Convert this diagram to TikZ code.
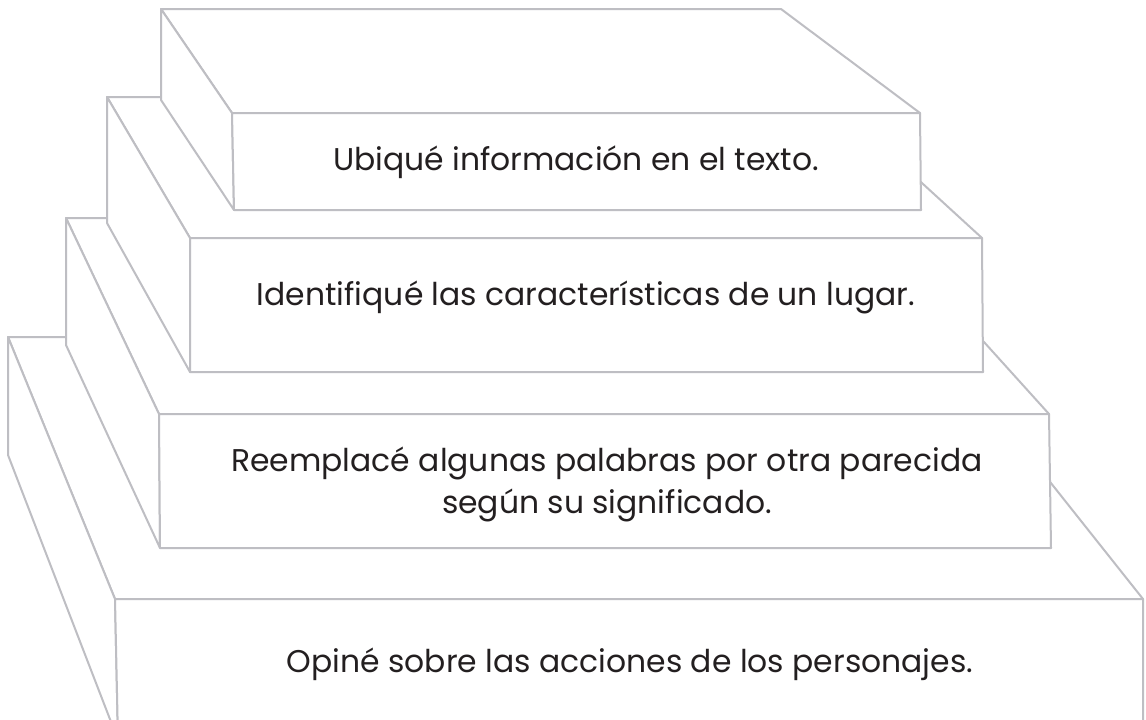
\documentclass[tikz,border=0pt]{standalone}
\usepackage{fontspec}
\setmainfont{Poppins}
\usepackage{xcolor}
\usepackage{tikz}
\definecolor{stepgray}{RGB}{190,190,195}
\definecolor{textgray}{RGB}{35,31,32}

\begin{document}
\begin{tikzpicture}[x=1pt, y=-1pt,
    block/.style={draw=stepgray, line width=2pt, fill=white, line join=round},
    lbl/.style={text=textgray, font=\fontsize{31.4}{42}\selectfont, align=center}]
    \clip (0,0) rectangle (1146,720);
    % bottom step
    \draw[block] (8,337) -- (935,337) -- (1143,599) -- (115,599) -- cycle;
    \draw[block] (8,337) -- (8,455) -- (118,740) -- (115,599) -- cycle;
    \draw[block] (115,599) -- (1143,599) -- (1143,740) -- (118,740) -- cycle;
    % third step
    \draw[block] (66,218) -- (872,218) -- (1049,414) -- (159,414) -- cycle;
    \draw[block] (66,218) -- (66,345) -- (160,548) -- (159,414) -- cycle;
    \draw[block] (159,414) -- (1049,414) -- (1051,548) -- (160,548) -- cycle;
    % second step
    \draw[block] (107,97) -- (828,97) -- (982,238) -- (190,238) -- cycle;
    \draw[block] (107,97) -- (107,223) -- (190,372) -- (190,238) -- cycle;
    \draw[block] (190,238) -- (982,238) -- (983,372) -- (190,372) -- cycle;
    % top step
    \draw[block] (161,9) -- (781,9) -- (920,113) -- (232,113) -- cycle;
    \draw[block] (161,9) -- (161,100) -- (234,210) -- (232,113) -- cycle;
    \draw[block] (232,113) -- (920,113) -- (921,210) -- (234,210) -- cycle;
    % texts
    \node[lbl] (ubique) at (576,162) {Ubiqué información en el texto.};
    \node[lbl] (identifique) at (586,297) {Identifiqué las características de un lugar.};
    \node[lbl] (reemplace) at (607,484) {Reemplacé algunas palabras por otra parecida\\según su significado.};
    \node[lbl] (opine) at (630,664) {Opiné sobre las acciones de los personajes.};
\end{tikzpicture}
\end{document}
